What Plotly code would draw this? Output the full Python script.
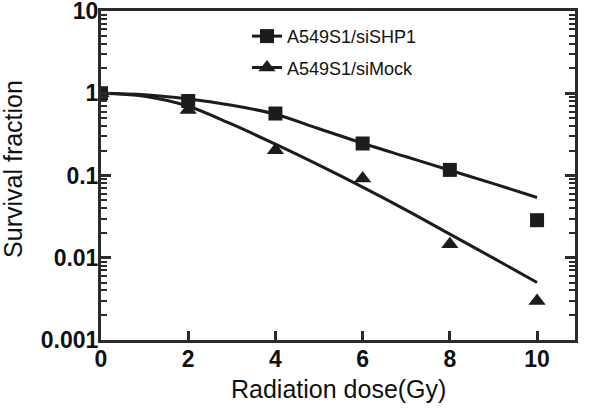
import plotly.graph_objects as go

# Measured survival fractions
dose = [0, 2, 4, 6, 8, 10]
shp1_sf = [1.0, 0.805, 0.567, 0.245, 0.117, 0.0286]
mock_sf = [1.0, 0.627, 0.203, 0.092, 0.0146, 0.00297]

# Fitted curves
fit_dose = [0, 1, 2, 3, 4, 5, 6, 7, 8, 9, 10]
shp1_fit = [1.0, 0.959, 0.852, 0.715, 0.556, 0.370, 0.247, 0.169, 0.116, 0.0795, 0.054]
mock_fit = [1.0, 0.919, 0.695, 0.420, 0.240, 0.1334, 0.0721, 0.0379, 0.01935, 0.00989, 0.00501]

y_tickvals = [0.001, 0.01, 0.1, 1, 10]
y_ticktext = ["0.001", "0.01", "0.1", "1", "10"]
x_tickvals = [0, 2, 4, 6, 8, 10]

names = ["A549S1/siSHP1", "A549S1/siMock"]
x_title = "Radiation dose(Gy)"
y_title = "Survival fraction"

INK = "#1c1c1c"
AX = "#2b2b2b"
FONT = "Liberation Sans, Arial, sans-serif"

fig = go.Figure()

fig.add_trace(go.Scatter(x=fit_dose, y=shp1_fit, mode="lines", line=dict(color=INK, width=3, shape="spline"),
                         showlegend=False, hoverinfo="skip"))
fig.add_trace(go.Scatter(x=fit_dose, y=mock_fit, mode="lines", line=dict(color=INK, width=3, shape="spline"),
                         showlegend=False, hoverinfo="skip"))
fig.add_trace(go.Scatter(x=dose, y=shp1_sf, mode="markers",
                         marker=dict(symbol="square", size=14, color=INK), showlegend=False))
fig.add_trace(go.Scatter(x=dose, y=mock_sf, mode="markers",
                         marker=dict(symbol="triangle-up", size=15, color=INK), showlegend=False))

# legend entries
fig.add_trace(go.Scatter(x=[None], y=[None], mode="lines+markers", name=names[0], legendgroup="a",
                         line=dict(color=INK, width=3), marker=dict(symbol="square", size=14, color=INK)))
fig.add_trace(go.Scatter(x=[None], y=[None], mode="lines+markers", name=names[1], legendgroup="b",
                         line=dict(color=INK, width=3), marker=dict(symbol="triangle-up", size=15, color=INK)))

fig.update_layout(
    width=600, height=411,
    margin=dict(l=101, r=25, t=11, b=71, autoexpand=False),
    paper_bgcolor="white", plot_bgcolor="white",
    font=dict(family=FONT, color="#111111"),
    legend=dict(x=0.308, y=0.979, xanchor="left", yanchor="top", bgcolor="rgba(0,0,0,0)",
                font=dict(size=18, family=FONT, color="#111111"), tracegroupgap=5),
    showlegend=True,
)

fig.add_annotation(text=x_title, xref="paper", yref="paper", x=0.5, y=0, xanchor="center", yanchor="top",
                   yshift=-33, showarrow=False, font=dict(size=25, family=FONT, color="#111111"))
fig.add_annotation(text=y_title, xref="paper", yref="paper", x=0, y=0.52, xanchor="center", yanchor="middle",
                   xshift=-88, textangle=-90, showarrow=False, font=dict(size=25, family=FONT, color="#111111"))

fig.update_xaxes(
    range=[0, 10.87], tickvals=x_tickvals, ticktext=[str(v) for v in x_tickvals],
    showline=True, linecolor=AX, linewidth=3, mirror=True, automargin=False,
    ticks="inside", ticklen=9, tickwidth=3, tickcolor=AX, ticklabelstandoff=-4,
    ticklabeloverflow="allow",
    tickfont=dict(size=23, family=FONT, color="#111111", weight="bold"),
    showgrid=False, zeroline=False,
)

fig.update_yaxes(
    type="log", range=[-3, 1], tickvals=y_tickvals, ticktext=y_ticktext,
    showline=True, linecolor=AX, linewidth=3, mirror="ticks", automargin=False,
    ticks="inside", ticklen=10, tickwidth=3, tickcolor=AX, ticklabelstandoff=-5,
    ticklabeloverflow="allow",
    minor=dict(ticks="inside", ticklen=6, tickwidth=2, tickcolor=AX, dtick="D1", showgrid=False),
    tickfont=dict(size=23, family=FONT, color="#111111", weight="bold"),
    showgrid=False, zeroline=False,
)

# remove the default 8px page margin so the figure sits at the window's top-left corner
fig.write_html("out.html", config={"displayModeBar": False},
               post_script="document.body.style.margin='0';")
